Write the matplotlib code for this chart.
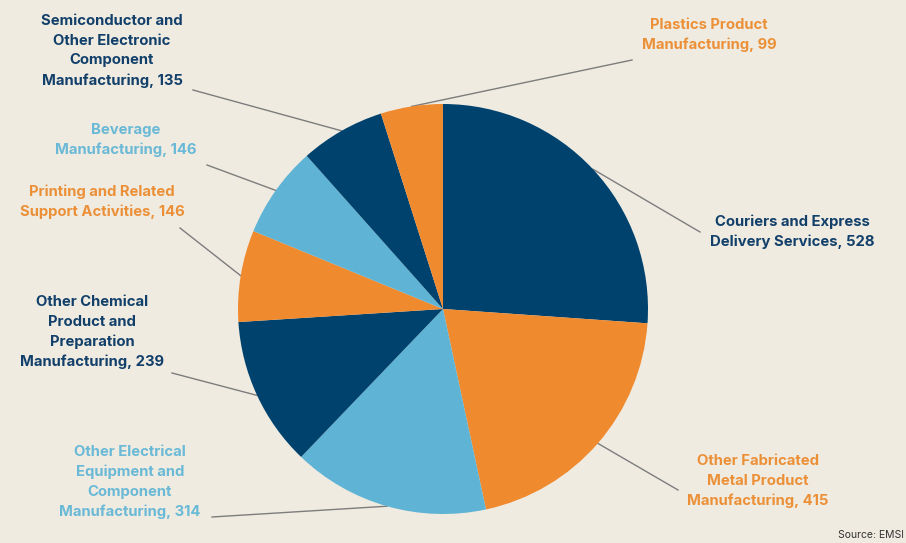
import matplotlib
matplotlib.use("Agg")
import matplotlib.pyplot as plt
import numpy as np

categories = [
    "Couriers and Express\nDelivery Services",
    "Other Fabricated\nMetal Product\nManufacturing",
    "Other Electrical\nEquipment and\nComponent\nManufacturing",
    "Other Chemical\nProduct and\nPreparation\nManufacturing",
    "Printing and Related\nSupport Activities",
    "Beverage\nManufacturing",
    "Semiconductor and\nOther Electronic\nComponent\nManufacturing",
    "Plastics Product\nManufacturing",
]
values = [528, 415, 314, 239, 146, 146, 135, 99]

NAVY = "#00426E"
ORANGE = "#F08A2F"
LBLUE = "#5FB3D4"
wedge_colors = [NAVY, ORANGE, LBLUE, NAVY, ORANGE, LBLUE, NAVY, ORANGE]
text_colors = ["#12406A", "#EC9038", "#6AB9D6", "#12406A", "#EC9038", "#6AB9D6", "#12406A", "#EC9038"]

W, H = 906, 543
BG = "#EFEBE1"

# label layout (pixel coords, y from top): text center, leader start
label_pos = [(792, 232), (758, 481), (130, 482), (92, 332), (102, 202), (126, 140), (112, 51), (709, 35)]
leader_start = [(700, 232), (678, 490), (212, 517), (172, 373), (180, 228), (207, 165), (193, 90), (632, 60)]

fig = plt.figure(figsize=(W / 100, H / 100), dpi=100, facecolor=BG)
ax = fig.add_axes([0, 0, 1, 1])
ax.set_facecolor(BG)

cx, cy, R = 443, H - 309, 205
wedges, _ = ax.pie(values, colors=wedge_colors, startangle=90, counterclock=False,
                   center=(cx, cy), radius=R, frame=True,
                   wedgeprops=dict(linewidth=0))
ax.set_xlim(0, W)
ax.set_ylim(0, H)
ax.set_aspect("equal")
ax.axis("off")

for w, cat, val, tc, (lx, ly), (sx, sy) in zip(wedges, categories, values, text_colors,
                                                 label_pos, leader_start):
    mid = np.deg2rad((w.theta1 + w.theta2) / 2)
    ex, ey = cx + R * np.cos(mid), cy + R * np.sin(mid)
    ax.plot([sx, ex], [H - sy, ey], color="#7d7d7d", lw=1.0, zorder=0.5)
    ax.text(lx, H - ly, f"{cat}, {val}", ha="center", va="center", color=tc,
            fontsize=10.7, fontweight="bold", family="Inter", linespacing=1.5)

ax.text(W - 2, H - 535, "Source: EMSI", ha="right", va="center", color="#333333",
        fontsize=7.5, family="Inter")

fig.savefig("out.png", dpi=100, facecolor=BG)
